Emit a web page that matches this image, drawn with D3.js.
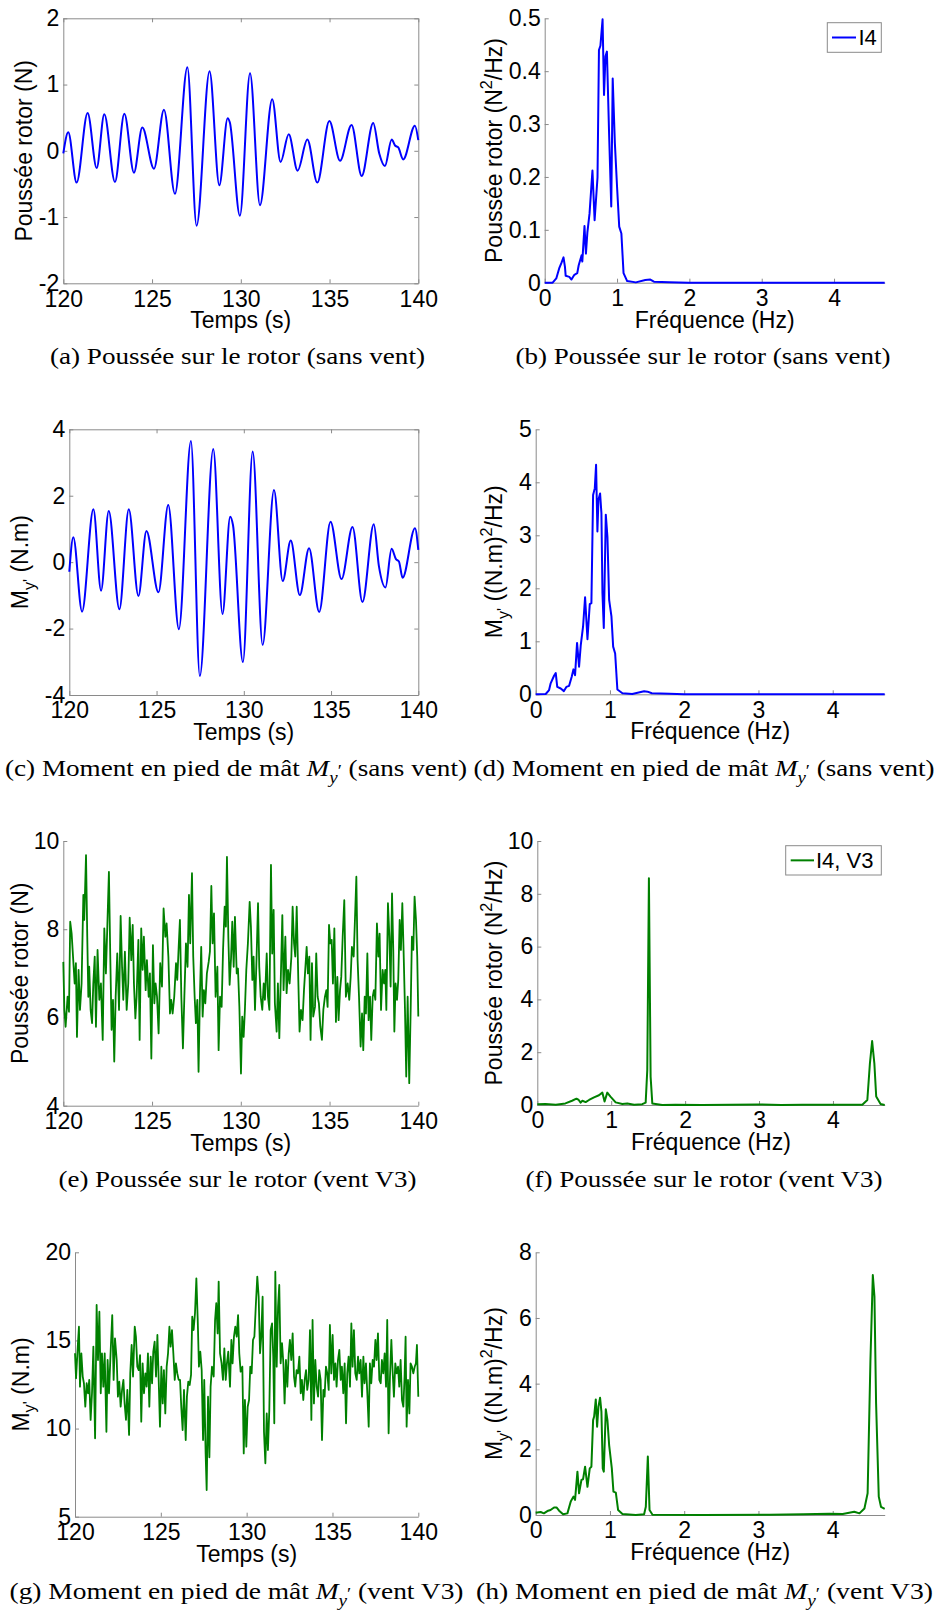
<!DOCTYPE html>
<html><head><meta charset="utf-8">
<script src="https://cdn.jsdelivr.net/npm/d3@7"></script>
<style>body{margin:0;background:#fff}</style>
</head><body><svg id="c" width="938" height="1610"></svg>
<script>
// ---------------- DATA ----------------
const timeTicks = [120,125,130,135,140];
const freqTicks = [0,1,2,3,4];
const thrustCalmTicks = [-2,-1,0,1,2];
const thrustCalmPsdTicks = [0,0.1,0.2,0.3,0.4,0.5];
const momentCalmTicks = [-4,-2,0,2,4];
const momentCalmPsdTicks = [0,1,2,3,4,5];
const thrustWindTicks = [4,6,8,10];
const thrustWindPsdTicks = [0,2,4,6,8,10];
const momentWindTicks = [5,10,15,20];
const momentWindPsdTicks = [0,2,4,6,8];

// (a) thrust, no wind, time domain
const thrustCalmT = [120,120.28,120.75,121.37,121.88,122.31,122.91,123.44,123.98,124.45,125.11,125.67,126.29,126.99,127.51,128.24,128.79,129.26,129.38,129.95,130.52,131.08,131.77,132.24,132.70,133.20,133.75,134.31,134.99,135.59,136.24,136.81,137.46,137.80,138.12,138.50,138.69,138.87,139.15,139.81,140];
const thrustCalmV = [-0.04,0.28,-0.48,0.57,-0.26,0.55,-0.47,0.56,-0.33,0.35,-0.27,0.62,-0.65,1.26,-1.13,1.20,-0.52,0.49,0.43,-0.98,1.17,-0.82,0.78,-0.17,0.25,-0.30,0.17,-0.48,0.45,-0.15,0.39,-0.38,0.42,-0.04,-0.23,0.17,0.08,0.05,-0.13,0.38,0.16];

// (b) thrust PSD, no wind
const thrustCalmPsdF = [0,0.11,0.16,0.2,0.23,0.26,0.28,0.29,0.34,0.37,0.41,0.45,0.47,0.51,0.52,0.55,0.57,0.59,0.62,0.66,0.69,0.73,0.75,0.77,0.80,0.82,0.84,0.86,0.89,0.92,0.94,0.97,1.0,1.03,1.06,1.09,1.14,1.26,1.39,1.46,1.51,1.72,1.99,4.7];
const thrustCalmPsdV = [0,0,0.008,0.027,0.037,0.048,0.03,0.013,0.011,0.006,0.015,0.018,0.033,0.052,0.04,0.107,0.055,0.095,0.131,0.212,0.118,0.199,0.44,0.448,0.498,0.355,0.428,0.437,0.282,0.144,0.386,0.264,0.182,0.106,0.093,0.018,0.003,0.0006,0.005,0.006,0.002,0.001,0,0];

// (c) moment, no wind
const momentCalmT = [120,120.23,120.73,121.38,121.82,122.26,122.87,123.41,123.96,124.42,125.11,125.67,126.28,126.97,127.48,128.25,128.78,129.22,129.38,129.95,130.51,131.08,131.73,132.23,132.69,133.21,133.74,134.32,134.97,135.60,136.23,136.80,137.45,137.74,138.12,138.47,138.72,138.89,139.10,139.81,140];
const momentCalmV = [-0.29,0.75,-1.49,1.59,-0.86,1.54,-1.42,1.59,-1.02,0.94,-0.91,1.72,-2.02,3.65,-3.43,3.41,-1.56,1.37,1.12,-3.01,3.33,-2.49,2.17,-0.57,0.65,-0.99,0.42,-1.50,1.22,-0.51,1.06,-1.20,1.14,-0.11,-0.76,0.40,0.09,0.02,-0.47,1.02,0.37];

// (d) moment PSD, no wind
const momentCalmPsdF = [0,0.135,0.18,0.2,0.247,0.27,0.29,0.337,0.38,0.413,0.45,0.485,0.508,0.53,0.557,0.584,0.607,0.638,0.665,0.697,0.728,0.75,0.773,0.796,0.813,0.831,0.845,0.867,0.885,0.899,0.917,0.944,0.966,0.989,1.02,1.043,1.07,1.10,1.168,1.30,1.416,1.46,1.506,1.564,1.8,2.0,4.7];
const momentCalmPsdV = [0,0.006,0.08,0.2,0.35,0.40,0.14,0.11,0.06,0.14,0.16,0.33,0.47,0.36,0.97,0.52,0.93,1.28,1.83,1.04,1.70,1.72,3.76,3.89,4.33,3.07,3.67,3.79,3.42,1.91,1.25,3.39,2.97,1.78,1.47,0.90,0.77,0.09,0.02,0.006,0.044,0.057,0.05,0.02,0.01,0,0];

// (e) thrust, wind V3
const thrustWindT = [120.00,120.06,120.13,120.24,120.32,120.39,120.47,120.56,120.64,120.71,
120.77,120.86,120.94,121.03,121.13,121.18,121.28,121.35,121.41,121.46,
121.54,121.62,121.69,121.77,121.84,121.93,122.03,122.12,122.22,122.31,
122.40,122.48,122.57,122.65,122.72,122.80,122.87,122.95,123.04,123.14,
123.23,123.31,123.38,123.47,123.57,123.66,123.74,123.83,123.91,123.98,
124.06,124.13,124.23,124.30,124.39,124.47,124.54,124.64,124.71,124.81,
124.88,124.96,125.05,125.13,125.20,125.28,125.37,125.46,125.56,125.65,
125.75,125.82,125.92,126.01,126.08,126.16,126.25,126.35,126.42,126.50,
126.57,126.65,126.74,126.82,126.91,127.00,127.08,127.15,127.25,127.32,
127.40,127.47,127.55,127.62,127.70,127.77,127.85,127.92,128.00,128.09,
128.19,128.26,128.34,128.41,128.49,128.58,128.68,128.75,128.83,128.92,
129.00,129.09,129.16,129.22,129.30,129.37,129.45,129.52,129.60,129.67,
129.77,129.84,129.92,130.01,130.08,130.16,130.23,130.31,130.40,130.50,
130.57,130.65,130.72,130.80,130.89,130.97,131.04,131.12,131.21,131.29,
131.36,131.46,131.53,131.61,131.70,131.77,131.85,131.92,132.02,132.09,
132.17,132.26,132.34,132.41,132.51,132.58,132.66,132.75,132.85,132.92,
133.00,133.07,133.15,133.24,133.31,133.39,133.48,133.56,133.63,133.71,
133.78,133.86,133.93,134.01,134.08,134.18,134.25,134.33,134.40,134.48,
134.57,134.65,134.74,134.82,134.89,134.97,135.04,135.12,135.19,135.27,
135.36,135.44,135.51,135.59,135.66,135.74,135.83,135.92,136.02,136.11,
136.19,136.26,136.36,136.43,136.51,136.58,136.66,136.75,136.83,136.90,
136.98,137.05,137.13,137.20,137.28,137.35,137.43,137.50,137.58,137.67,
137.75,137.82,137.90,137.99,138.07,138.14,138.20,138.29,138.37,138.44,
138.52,138.59,138.65,138.72,138.80,138.87,138.95,139.02,139.10,139.17,
139.25,139.32,139.40,139.49,139.57,139.64,139.72,139.79,139.87,139.94,
140.00];
const thrustWindV = [7.26,6.17,5.79,6.47,6.13,8.17,7.9,7.3,6.77,7.23,
5.56,7.08,6.17,6.77,8.78,8.21,9.68,7.83,6.47,7.15,
6.17,5.87,6.77,7.38,5.79,7.53,6.40,6.77,5.49,8.02,
7.0,8.06,9.30,7.3,5.72,6.40,5.0,6.47,7.45,6.17,
8.30,7.15,6.40,7.49,6.17,6.77,8.26,7.3,8.1,6.77,
5.98,6.47,7.76,5.49,8.02,7.08,7.83,6.62,7.3,6.47,
7.0,5.07,7.64,6.32,6.77,6.47,5.64,7.23,6.70,8.47,
7.83,8.13,7.38,6.09,6.40,6.09,6.47,7.23,6.85,7.6,
8.21,6.47,5.30,6.47,7.68,7.15,8.78,7.68,9.27,7.38,
6.47,5.87,6.40,4.77,6.55,7.6,6.02,6.62,6.32,7.0,
7.26,7.49,8.98,7.68,8.36,6.47,7.15,5.26,6.47,6.24,
7.53,8.51,8.06,9.64,7.79,6.74,7.34,8.17,7.15,8.28,
7.0,7.11,6.24,4.73,6.02,5.56,6.17,7.08,7.68,8.62,
8.06,6.85,7.38,6.17,7.38,8.59,7.15,6.47,6.17,6.77,
6.40,7.45,6.47,6.17,9.46,7.45,8.44,6.32,5.68,6.77,
5.53,7.0,8.32,6.62,7.83,6.55,7.08,6.77,7.38,8.51,
7.68,7.38,8.51,6.85,5.68,6.17,5.94,6.62,7.08,7.6,
7.0,7.38,5.49,7.23,6.02,6.24,7.45,6.47,6.32,5.79,
5.49,6.17,6.47,6.62,6.24,8.10,7.68,7.76,6.77,8.02,
5.90,6.92,5.94,6.62,6.92,7.83,8.66,6.47,6.77,6.40,
6.92,7.6,7.38,8.21,9.19,7.3,6.47,5.34,6.09,5.26,
6.47,6.09,7.45,5.94,6.47,5.49,6.47,6.62,6.40,8.13,
7.38,7.90,6.17,7.08,6.77,7.08,6.17,8.59,7.83,6.70,
8.81,7.53,5.68,6.77,6.40,6.85,8.21,7.53,8.59,7.53,
6.17,4.66,6.47,4.51,6.17,7.83,7.53,8.74,8.21,7.38,
6.02];

// (f) thrust PSD, wind V3
const thrustWindPsdF = [0,0.11,0.25,0.38,0.47,0.53,0.56,0.586,0.61,0.654,0.70,0.767,0.834,0.88,0.91,0.947,0.99,1.06,1.15,1.218,1.31,1.42,1.466,1.488,1.51,1.533,1.556,1.69,1.87,2.23,2.6,3.0,3.3,3.585,4.0,4.397,4.465,4.50,4.53,4.56,4.585,4.644,4.7];
const thrustWindPsdV = [0.03,0.04,0.01,0.06,0.16,0.24,0.19,0.09,0.16,0.11,0.19,0.29,0.37,0.47,0.13,0.47,0.32,0.10,0.04,0.06,0.01,0.03,0.09,1.33,8.59,1.07,0.06,0,0.01,0,0.01,0.02,0,0.01,0.01,0.01,0.19,1.58,2.42,1.58,0.32,0.04,0];

// (g) moment, wind V3
const momentWindT = [120.00,120.06,120.16,120.23,120.29,120.37,120.45,120.52,120.60,120.68,
120.76,120.83,120.91,120.99,121.07,121.17,121.26,121.34,121.42,121.50,
121.57,121.65,121.73,121.83,121.90,121.98,122.08,122.17,122.25,122.33,
122.43,122.50,122.58,122.66,122.74,122.82,122.89,122.97,123.05,123.15,
123.22,123.30,123.38,123.48,123.55,123.63,123.71,123.79,123.86,123.94,
124.02,124.10,124.17,124.25,124.33,124.41,124.49,124.56,124.64,124.72,
124.80,124.87,124.95,125.03,125.11,125.18,125.26,125.34,125.42,125.50,
125.57,125.65,125.73,125.81,125.88,125.96,126.04,126.12,126.19,126.27,
126.35,126.45,126.52,126.60,126.68,126.76,126.83,126.91,126.99,127.07,
127.15,127.22,127.30,127.38,127.46,127.53,127.61,127.67,127.75,127.83,
127.90,127.98,128.08,128.16,128.23,128.31,128.37,128.45,128.54,128.62,
128.70,128.78,128.85,128.93,129.03,129.11,129.18,129.26,129.34,129.42,
129.50,129.57,129.65,129.75,129.83,129.90,129.98,130.06,130.14,130.21,
130.29,130.37,130.45,130.54,130.62,130.70,130.78,130.85,130.93,131.01,
131.09,131.17,131.24,131.32,131.40,131.48,131.55,131.61,131.67,131.75,
131.83,131.90,131.98,132.06,132.14,132.21,132.29,132.37,132.45,132.52,
132.60,132.68,132.76,132.83,132.91,132.99,133.07,133.15,133.22,133.30,
133.38,133.46,133.53,133.61,133.69,133.77,133.84,133.92,134.00,134.08,
134.16,134.23,134.31,134.39,134.47,134.54,134.62,134.70,134.78,134.85,
134.93,135.01,135.09,135.17,135.24,135.32,135.40,135.48,135.55,135.63,
135.71,135.79,135.86,135.94,136.02,136.10,136.17,136.25,136.33,136.41,
136.49,136.56,136.64,136.72,136.80,136.87,136.95,137.03,137.11,137.18,
137.26,137.34,137.42,137.50,137.57,137.65,137.73,137.81,137.88,137.96,
138.04,138.12,138.19,138.27,138.35,138.43,138.50,138.58,138.66,138.74,
138.82,138.89,138.97,139.05,139.13,139.20,139.26,139.32,139.40,139.48,
139.55,139.63,139.71,139.79,139.86,139.92,140.00];
const momentWindV = [14.27,12.85,14.65,15.78,12.38,14.27,12.95,12.57,11.24,12.57,
12.0,12.76,10.49,12.0,14.65,9.45,17.01,13.89,16.63,12.0,
14.27,12.38,14.27,9.82,13.89,12.0,14.46,16.44,12.76,15.12,
13.89,11.81,12.66,11.24,12.19,12.76,11.43,10.49,12.19,9.64,
13.13,14.74,12.95,15.78,15.21,13.51,13.32,14.17,10.39,13.70,
12.0,13.13,12.38,14.27,11.24,14.08,12.57,14.36,14.93,12.95,
15.31,12.95,10.11,13.51,11.43,13.32,10.86,13.51,14.27,15.78,
14.65,15.59,14.27,12.76,13.70,13.13,12.76,12.76,11.24,9.92,
12.19,9.35,11.81,12.66,12.47,13.04,16.35,15.59,16.54,18.52,
16.16,13.51,14.36,13.32,9.35,12.76,8.59,6.51,11.81,8.37,
12.38,13.51,12.95,16.16,17.11,15.40,18.34,14.27,13.70,12.76,
14.55,12.76,13.70,14.36,12.38,15.03,13.70,15.21,15.78,15.21,
16.44,14.27,13.23,13.51,8.59,11.62,8.97,11.24,11.62,13.51,
13.13,15.03,15.21,17.11,18.62,17.48,14.27,15.21,17.48,9.82,
8.03,10.86,8.78,11.05,15.59,15.97,14.08,10.30,18.90,13.51,
16.92,18.15,13.70,14.84,13.70,11.43,13.89,12.38,14.27,15.03,
13.89,15.40,12.95,12.38,13.32,13.13,14.08,12.0,12.76,11.62,
12.76,13.32,12.19,12.76,15.59,10.49,16.16,11.43,13.89,12.38,
11.81,13.32,12.76,9.35,12.19,11.81,13.51,13.13,12.19,15.88,
13.13,15.31,12.76,13.70,12.38,13.89,14.46,12.76,13.51,12.0,
13.70,10.30,13.13,14.08,12.38,15.97,13.51,15.59,13.13,12.76,
14.08,13.13,13.89,11.81,14.08,12.57,13.70,12.0,10.11,13.70,
12.57,13.89,13.51,15.03,13.89,15.40,12.76,12.57,13.89,13.13,
14.27,12.38,16.16,9.73,12.95,15.03,13.32,11.81,13.70,13.13,
13.51,12.38,13.89,11.62,11.24,12.95,15.21,10.11,12.76,10.86,
13.70,13.51,13.13,13.51,13.70,14.74,11.81];

// (h) moment PSD, wind V3
const momentWindPsdF = [0,0.067,0.11,0.157,0.2,0.247,0.28,0.315,0.369,0.427,0.472,0.508,0.53,0.562,0.584,0.616,0.638,0.665,0.697,0.728,0.75,0.773,0.787,0.809,0.827,0.845,0.867,0.885,0.903,0.917,0.944,0.966,0.989,1.025,1.047,1.079,1.11,1.168,1.348,1.46,1.483,1.51,1.533,1.573,2.25,3.146,3.6,3.955,4.135,4.29,4.36,4.427,4.47,4.508,4.54,4.562,4.584,4.62,4.65,4.7];
const momentWindPsdV = [0.07,0.09,0.05,0.12,0.15,0.23,0.23,0.13,0.02,0.05,0.41,0.56,0.46,1.32,0.66,1.07,1.09,1.47,0.86,1.42,1.47,2.89,3.0,3.52,2.69,3.30,3.57,3.15,1.42,1.32,3.22,2.89,2.13,1.42,0.71,0.68,0.15,0.03,0,0.02,0.25,1.78,0.15,0.01,0,0.01,0.02,0.04,0.03,0.10,0.05,0.2,0.66,4.72,7.31,6.65,3.40,0.56,0.25,0.19];

// text
const xLabelTime = 'Temps (s)';
const xLabelFreq = 'Fréquence (Hz)';
const yLabelThrust = [{t:'Poussée rotor (N)'}];
const yLabelThrustPsd = [{t:'Poussée rotor (N'},{t:'2',sup:true},{t:'/Hz)'}];
const yLabelMoment = [{t:'M'},{t:'y',sub:true},{t:"'",sub:true},{t:' (N.m)'}];
const yLabelMomentPsd = [{t:'M'},{t:'y',sub:true},{t:"'",sub:true},{t:' ((N.m)'},{t:'2',sup:true},{t:'/Hz)'}];
const legendCalm = 'I4';
const legendWind = 'I4, V3';
const captions = [
  [{t:'(a) Poussée sur le rotor (sans vent)'}],
  [{t:'(b) Poussée sur le rotor (sans vent)'}],
  [{t:'(c) Moment en pied de mât '},{t:'M',it:true},{t:'y',it:true,sub:true},{t:'′',sub2:true},{t:' (sans vent)'}],
  [{t:'(d) Moment en pied de mât '},{t:'M',it:true},{t:'y',it:true,sub:true},{t:'′',sub2:true},{t:' (sans vent)'}],
  [{t:'(e) Poussée sur le rotor (vent V3)'}],
  [{t:'(f) Poussée sur le rotor (vent V3)'}],
  [{t:'(g) Moment en pied de mât '},{t:'M',it:true},{t:'y',it:true,sub:true},{t:'′',sub2:true},{t:' (vent V3)'}],
  [{t:'(h) Moment en pied de mât '},{t:'M',it:true},{t:'y',it:true,sub:true},{t:'′',sub2:true},{t:' (vent V3)'}]
];

// ---------------- LAYOUT / STYLE ----------------
const BLUE = '#0000ff', GREEN = '#008000', AXIS = '#8a8a8a';
const SANS = '"Liberation Sans", Arial, Helvetica, sans-serif';
const SERIF = '"Liberation Serif", "Times New Roman", serif';
const FS = 23, CFS = 23;

const panels = [
 {x:thrustCalmT, y:thrustCalmV, xd:[120,140], yd:[-2,2], xt:timeTicks, yt:thrustCalmTicks, color:BLUE, lw:2, smooth:true, box:true, xl:xLabelTime, yl:yLabelThrust,
  x0:63.3, x1:418.3, y0:18.3, y1:283.3, ylx:31.5},
 {x:thrustCalmPsdF, y:thrustCalmPsdV, xd:[0,4.7], yd:[0,0.5], xt:freqTicks, yt:thrustCalmPsdTicks, color:BLUE, lw:2, xl:xLabelFreq, yl:yLabelThrustPsd,
  x0:544.7, x1:884.7, y0:18.3, y1:282.7, ylx:501.5, legend:{text:legendCalm, x0:827.3, x1:881.3, y0:22.7, y1:52.3, lx0:832, lx1:856, tx:858.5}},
 {x:momentCalmT, y:momentCalmV, xd:[120,140], yd:[-4,4], xt:timeTicks, yt:momentCalmTicks, color:BLUE, lw:2, smooth:true, box:true, xl:xLabelTime, yl:yLabelMoment,
  x0:69.3, x1:418.3, y0:429.3, y1:695, ylx:28},
 {x:momentCalmPsdF, y:momentCalmPsdV, xd:[0,4.7], yd:[0,5], xt:freqTicks, yt:momentCalmPsdTicks, color:BLUE, lw:2, xl:xLabelFreq, yl:yLabelMomentPsd,
  x0:535.7, x1:884.7, y0:429.3, y1:694.3, ylx:502},
 {x:thrustWindT, y:thrustWindV, xd:[120,140], yd:[4,10], xt:timeTicks, yt:thrustWindTicks, color:GREEN, lw:1.8, xl:xLabelTime, yl:yLabelThrust,
  x0:63.3, x1:418.3, y0:841, y1:1105.7, ylx:28},
 {x:thrustWindPsdF, y:thrustWindPsdV, xd:[0,4.7], yd:[0,10], xt:freqTicks, yt:thrustWindPsdTicks, color:GREEN, lw:2, xl:xLabelFreq, yl:yLabelThrustPsd,
  x0:537.3, x1:884.7, y0:841, y1:1105, ylx:501.5, legend:{text:legendWind, x0:785.7, x1:881.3, y0:845.7, y1:875, lx0:790.7, lx1:814, tx:816}},
 {x:momentWindT, y:momentWindV, xd:[120,140], yd:[5,20], xt:timeTicks, yt:momentWindTicks, color:GREEN, lw:1.8, xl:xLabelTime, yl:yLabelMoment,
  x0:75, x1:418.3, y0:1252.3, y1:1516.7, ylx:28.5},
 {x:momentWindPsdF, y:momentWindPsdV, xd:[0,4.7], yd:[0,8], xt:freqTicks, yt:momentWindPsdTicks, color:GREEN, lw:2, xl:xLabelFreq, yl:yLabelMomentPsd,
  x0:535.7, x1:884.7, y0:1252.3, y1:1515, ylx:502}
];
const captionPos = [
 {cx:237.5, y:364, w:375}, {cx:703, y:364, w:375},
 {cx:236, y:776, w:462}, {cx:704, y:776, w:461},
 {cx:237.5, y:1187, w:358}, {cx:704, y:1187, w:357},
 {cx:236.5, y:1599, w:454}, {cx:704.5, y:1599, w:457}
];

// ---------------- DRAW ----------------
const svg = d3.select('#c');
svg.append('rect').attr('width',938).attr('height',1610).attr('fill','#fff');

function rich(sel, segs, base){
  let cur = 0;
  segs.forEach(s => {
    let target = 0, size = null;
    if (s.sup){ target = -0.42*base; size = 0.7*base; }
    else if (s.sub){ target = 0.3*base; size = 0.7*base; }
    else if (s.sub2){ target = 0.02*base; size = 0.7*base; }
    const ts = sel.append('tspan').text(s.t).attr('dy', (target-cur).toFixed(2));
    if (size) ts.attr('font-size', size);
    if (s.it) ts.attr('font-style','italic');
    cur = target;
  });
}

function styleAxis(g){
  g.attr('font-size', FS).attr('font-family', SANS);
  g.select('.domain').attr('stroke', AXIS).attr('stroke-width', 1);
  g.selectAll('.tick line').attr('stroke', AXIS).attr('stroke-width', 1);
  g.selectAll('.tick text').attr('fill', '#000');
}

panels.forEach(p => {
  const x = d3.scaleLinear().domain(p.xd).range([p.x0, p.x1]);
  const y = d3.scaleLinear().domain(p.yd).range([p.y1, p.y0]);
  const g = svg.append('g');
  const fmt = d => String(d);

  g.append('g').attr('transform',`translate(0,${p.y1})`)
    .call(d3.axisBottom(x).tickValues(p.xt).tickFormat(fmt).tickSize(-4).tickSizeOuter(0).tickPadding(7))
    .call(styleAxis);
  g.append('g').attr('transform',`translate(${p.x0},0)`)
    .call(d3.axisLeft(y).tickValues(p.yt).tickFormat(fmt).tickSize(-4).tickSizeOuter(0).tickPadding(4))
    .call(styleAxis);
  if (p.box){
    g.append('g').attr('transform',`translate(0,${p.y0})`)
      .call(d3.axisTop(x).tickValues(p.xt).tickFormat('').tickSize(-4).tickSizeOuter(0))
      .call(styleAxis);
    g.append('g').attr('transform',`translate(${p.x1},0)`)
      .call(d3.axisRight(y).tickValues(p.yt).tickFormat('').tickSize(-4).tickSizeOuter(0))
      .call(styleAxis);
  }

  const pts = p.x.map((v,i) => [v, p.y[i]]);
  const line = d3.line().x(d => x(d[0])).y(d => y(d[1]))
    .curve(p.smooth ? d3.curveMonotoneX : d3.curveLinear);
  g.append('path').datum(pts).attr('d', line).attr('fill','none')
    .attr('stroke', p.color).attr('stroke-width', p.lw).attr('stroke-linejoin','round');

  // axis labels
  g.append('text').attr('x', (p.x0+p.x1)/2).attr('y', p.y1+45)
    .attr('text-anchor','middle').attr('font-family', SANS).attr('font-size', FS).text(p.xl);
  const yt = g.append('text')
    .attr('transform', `translate(${p.ylx},${(p.y0+p.y1)/2}) rotate(-90)`)
    .attr('text-anchor','middle').attr('font-family', SANS).attr('font-size', FS);
  rich(yt, p.yl, FS);

  if (p.legend){
    const L = p.legend, my = (L.y0+L.y1)/2;
    g.append('rect').attr('x', L.x0).attr('y', L.y0).attr('width', L.x1-L.x0).attr('height', L.y1-L.y0)
      .attr('fill','#fff').attr('stroke', AXIS).attr('stroke-width', 1);
    g.append('line').attr('x1', L.lx0).attr('x2', L.lx1).attr('y1', my).attr('y2', my)
      .attr('stroke', p.color).attr('stroke-width', 2);
    g.append('text').attr('x', L.tx).attr('y', my).attr('dy','0.36em')
      .attr('font-family', SANS).attr('font-size', 22).text(L.text);
  }
});

captions.forEach((segs, i) => {
  const c = captionPos[i];
  const t = svg.append('text').attr('x', c.cx).attr('y', c.y)
    .attr('text-anchor','middle').attr('font-family', SERIF).attr('font-size', CFS)
    .attr('textLength', c.w).attr('lengthAdjust','spacingAndGlyphs');
  rich(t, segs, CFS);
});
</script>
</body></html>
